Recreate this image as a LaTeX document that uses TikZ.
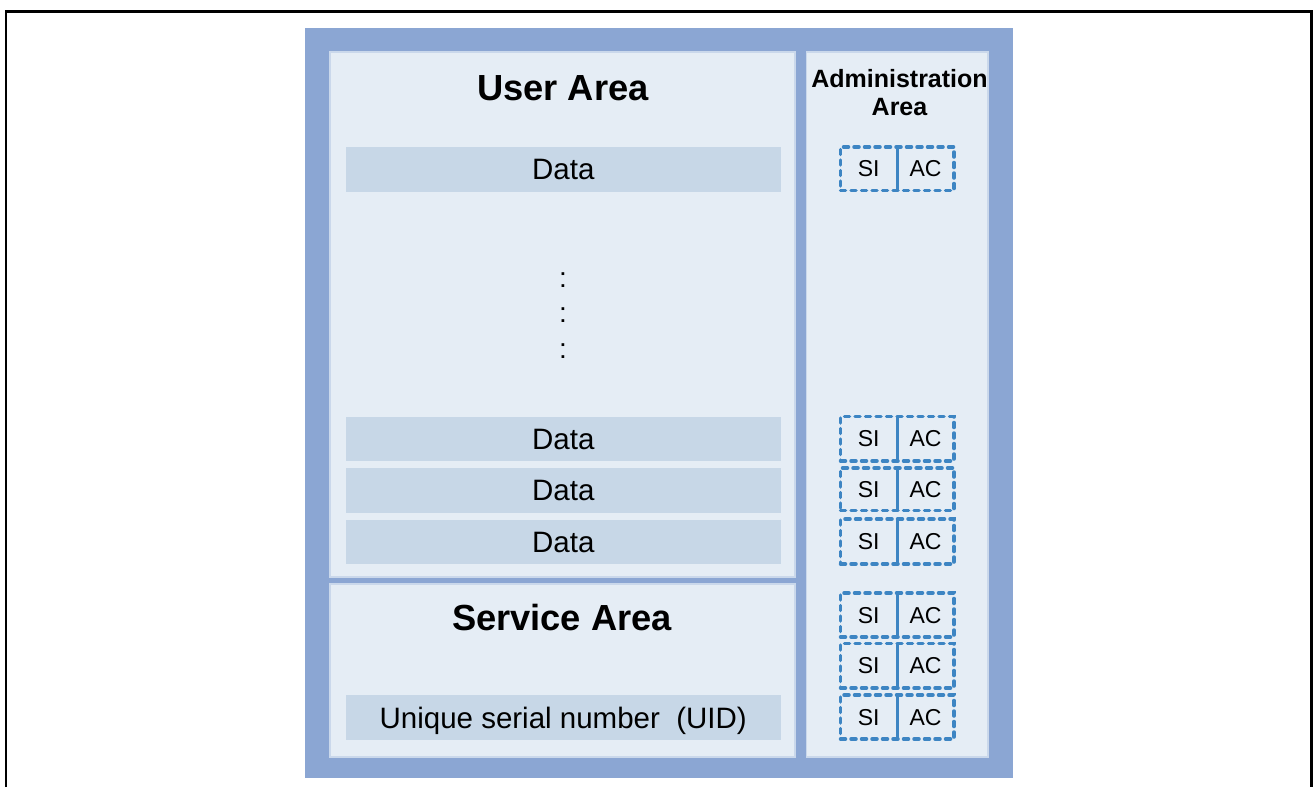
\documentclass[tikz,border=0pt]{standalone}
\usepackage{fontspec}
\setmainfont{Liberation Sans}
\definecolor{outerblue}{HTML}{8BA6D3}
\definecolor{panelfill}{HTML}{E5EDF5}
\definecolor{paneledge}{HTML}{CAD8EB}
\definecolor{barfill}{HTML}{C7D7E7}
\definecolor{dashblue}{HTML}{3D85C3}
\tikzset{
  outerbox/.style={fill=outerblue, draw=none, inner sep=0pt, outer sep=0pt},
  panel/.style={fill=panelfill, draw=paneledge, line width=1.5pt, inner sep=0pt, outer sep=0pt},
  databar/.style={fill=barfill, draw=none, inner sep=0pt, outer sep=0pt, minimum width=434.5pt, minimum height=44.5pt, text depth=0pt, font=\fontsize{29.5}{34}\selectfont},
  areatitle/.style={inner sep=0pt, text depth=0pt, font=\fontsize{36.3}{42}\selectfont\bfseries},
  admintitle/.style={inner sep=0pt, align=center, font=\fontsize{25}{28}\selectfont\bfseries},
  dots/.style={inner sep=0pt, font=\fontsize{28}{32}\selectfont},
  sirow/.style={draw=dashblue, line width=3.5pt, dash pattern=on 5pt off 5.5pt, line cap=round, fill=none, inner sep=0pt, outer sep=0pt, minimum width=113.5pt},
  sitext/.style={inner sep=0pt, text depth=0pt, font=\fontsize{23}{26}\selectfont},
  divider/.style={draw=dashblue, line width=3.5pt},
  frameline/.style={draw=black, line width=2.5pt}
}
\begin{document}
\begin{tikzpicture}[x=1pt, y=-1pt]
\useasboundingbox (0,0) rectangle (1313,787);
% outer frame (no bottom edge)
\coordinate (fbl) at (6,787);
\coordinate (ftl) at (6,11.5);
\coordinate (ftr) at (1311.5,11.5);
\coordinate (fbr) at (1311.5,787);
\draw[frameline] (fbl) -- (ftl) -- (ftr) -- (fbr);
% outer blue block
\node[outerbox, minimum width=708pt, minimum height=749.5pt] (outer) at (659,402.75) {};
% panels
\node[panel, minimum width=465pt, minimum height=525pt] (user) at (562.5,314.5) {};
\node[panel, minimum width=465pt, minimum height=173pt] (service) at (562.5,670.5) {};
\node[panel, minimum width=181.5pt, minimum height=705pt] (admin) at (897.25,404.5) {};
% titles
\node[areatitle] (usertitle) at (563,88) {User Area};
\node[areatitle] (servicetitle) at (562,617) {Service Area};
\node[admintitle] (admintitle) at (899.5,93) {Administration\\Area};
% data bars
\node[databar] (d1) at (563.25,169.25) {Data};
\node[databar] (d2) at (563.25,439) {Data};
\node[databar] (d3) at (563.25,490.25) {Data};
\node[databar] (d4) at (563.25,542) {Data};
\node[databar] (uid) at (563.25,717.5) {Unique serial number~~(UID)};
% ellipsis
\node[dots] (c1) at (563,280) {:};
\node[dots] (c2) at (563,315.5) {:};
\node[dots] (c3) at (563,351.5) {:};
% SI / AC rows
\foreach \n/\y/\h in {r1/168.75/43.5, r2/438.75/44.5, r3/489.25/42.5, r4/541.5/45, r5/615/44, r6/665.75/44.5, r7/717/44} {
  \node[sirow, minimum height=\h pt] (\n) at (897.25,\y) {};
  \draw[divider] (\n.north) -- (\n.south);
  \node[sitext] (\n si) at (868.75,\y) {SI};
  \node[sitext] (\n ac) at (925.5,\y) {AC};
}
\end{tikzpicture}
\end{document}
